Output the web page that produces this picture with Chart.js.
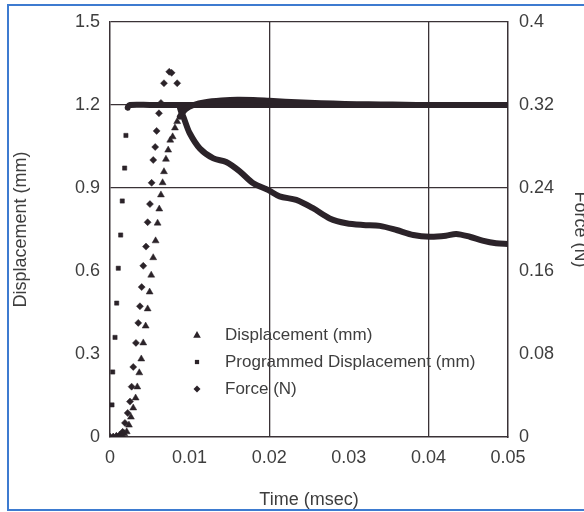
<!DOCTYPE html>
<html><head><meta charset="utf-8">
<script src="https://cdn.jsdelivr.net/npm/chart.js@4/dist/chart.umd.min.js"></script>
<style>
html,body{margin:0;padding:0;background:#fff;overflow:hidden;width:584px;height:512px;}
#wrap{position:relative;width:592px;height:512px;}
#frame{position:absolute;left:7px;top:4px;width:620px;height:503px;border:2px solid #3d7bd0;pointer-events:none;}
canvas{display:block;}
</style></head><body>
<div id="wrap"><canvas id="c" width="592" height="512"></canvas><div id="frame"></div></div>
<script>
// ---- tick labels ----
const xTicks = [0, 0.01, 0.02, 0.03, 0.04, 0.05];
const xTickLabels = ['0', '0.01', '0.02', '0.03', '0.04', '0.05'];
const dispTicks = [0, 0.3, 0.6, 0.9, 1.2, 1.5];
const dispTickLabels = ['0', '0.3', '0.6', '0.9', '1.2', '1.5'];
const forceTicks = [0, 0.08, 0.16, 0.24, 0.32, 0.4];
const forceTickLabels = ['0', '0.08', '0.16', '0.24', '0.32', '0.4'];
const xGridAt = [0.02, 0.04];
const yGridAt = [0.9, 1.2];

// ---- series: Programmed Displacement (mm) ----
const progTime = [0, 0.00025, 0.00034, 0.00063, 0.00084, 0.00104, 0.00134, 0.00154, 0.00184, 0.002, 0.00222,
  0.0025, 0.005, 0.0075, 0.01, 0.0125, 0.015, 0.0175, 0.02, 0.0225, 0.025, 0.0275, 0.03, 0.0325, 0.035, 0.0375, 0.04, 0.0425, 0.045, 0.0475, 0.05];
const progMm = [0, 0.116, 0.235, 0.36, 0.484, 0.61, 0.73, 0.853, 0.972, 1.09, 1.19,
  1.2, 1.2, 1.2, 1.2, 1.2, 1.2, 1.2, 1.2, 1.2, 1.2, 1.2, 1.2, 1.2, 1.2, 1.2, 1.2, 1.2, 1.2, 1.2, 1.2];

// ---- series: Displacement (mm) ----
const dispTime = [0, 0.0004, 0.0008, 0.0012, 0.0015, 0.0018, 0.0021, 0.00238, 0.00263, 0.00292, 0.00322,
  0.00343, 0.00368, 0.00393, 0.00418, 0.00448, 0.00473, 0.00498, 0.00518, 0.00543, 0.00573,
  0.00598, 0.00619, 0.0064, 0.00661, 0.00678, 0.00703, 0.00731, 0.00757, 0.00787, 0.00816,
  0.00844, 0.00878, 0.0095, 0.0105, 0.012, 0.014, 0.016, 0.018, 0.02, 0.022, 0.025, 0.028,
  0.031, 0.034, 0.037, 0.04, 0.043, 0.046, 0.05];
const dispMm = [0, 0, 0.002, 0.004, 0.007, 0.012, 0.019, 0.043, 0.072, 0.105, 0.141,
  0.181, 0.232, 0.282, 0.340, 0.401, 0.463, 0.524, 0.585, 0.648, 0.709,
  0.773, 0.824, 0.875, 0.919, 0.959, 1.004, 1.037, 1.073, 1.085, 1.117,
  1.14, 1.158, 1.185, 1.2, 1.21, 1.216, 1.219, 1.218, 1.215, 1.212, 1.208, 1.205,
  1.203, 1.202, 1.201, 1.2, 1.2, 1.2, 1.2];

// ---- series: Force (N) ----
const forceTime = [0, 0.0004, 0.0008, 0.0012, 0.00159, 0.00188, 0.00222, 0.00251, 0.00272, 0.00292,
  0.00326, 0.00355, 0.00376, 0.00398, 0.00418, 0.00452, 0.00473, 0.00502, 0.00523, 0.00543,
  0.00568, 0.00586, 0.00615, 0.0064, 0.00678, 0.00744, 0.00774, 0.00844,
  0.0088, 0.0093, 0.01, 0.0113, 0.013, 0.0146, 0.0163, 0.018, 0.0199, 0.0213,
  0.0234, 0.0255, 0.0276, 0.0297, 0.0318, 0.0339, 0.036, 0.0381, 0.0402, 0.0422,
  0.0435, 0.0452, 0.0468, 0.0485, 0.05];
const forceN = [0, 0, 0.001, 0.002, 0.005, 0.0136, 0.0232, 0.0341, 0.0485, 0.0675,
  0.0907, 0.110, 0.126, 0.1445, 0.165, 0.1835, 0.207, 0.2245, 0.245, 0.267,
  0.2795, 0.295, 0.312, 0.322, 0.341, 0.352, 0.351, 0.341,
  0.317, 0.307, 0.293, 0.278, 0.2685, 0.265, 0.256, 0.2445, 0.238, 0.232,
  0.2285, 0.2205, 0.2107, 0.206, 0.2043, 0.2035, 0.1995, 0.1947, 0.193, 0.194,
  0.1957, 0.193, 0.1893, 0.1867, 0.186];

// ---- styling ----
const FONT = '"Liberation Sans", Arial, sans-serif';
const textColor = '#3e3e3e';
const markColor = '#2b2329';
const lineColor = '#3a3236';
const bandWidth = 6;

function pts(t, v) { return t.map((x, i) => ({x: x, y: v[i]})); }

function series(label, t, v, axis, style, radius, denseFrom) {
  return {
    label: label,
    data: pts(t, v),
    yAxisID: axis,
    showLine: true,
    pointStyle: style,
    legendRadius: radius,
    backgroundColor: markColor,
    borderColor: markColor,
    borderWidth: bandWidth,
    borderCapStyle: 'round',
    borderJoinStyle: 'round',
    tension: 0.3,
    pointBorderWidth: 0.5,
    pointRadius: c => (c.raw && c.raw.x >= denseFrom) ? 0 : radius,
    pointHoverRadius: 0,
    segment: {
      borderColor: c => c.p0.parsed.x >= denseFrom ? markColor : 'rgba(0,0,0,0)'
    }
  };
}

function drawMarker(ctx, style, r, x, y) {
  ctx.beginPath();
  if (style === 'triangle') {
    ctx.moveTo(x, y - r);
    ctx.lineTo(x + r * 0.95, y + r * 0.7);
    ctx.lineTo(x - r * 0.95, y + r * 0.7);
  } else if (style === 'rect') {
    const s = r * Math.SQRT1_2;
    ctx.rect(x - s, y - s, 2 * s, 2 * s);
  } else {
    ctx.moveTo(x, y - r); ctx.lineTo(x + r, y); ctx.lineTo(x, y + r); ctx.lineTo(x - r, y);
  }
  ctx.closePath();
  ctx.fill();
}

const inlineLegend = {
  id: 'inlineLegend',
  afterDatasetsDraw(chart) {
    const ctx = chart.ctx;
    const a = chart.chartArea;
    const markerX = a.left + 87, textX = a.left + 115;
    const top = a.top + 313, row = 27;
    ctx.save();
    ctx.font = '17px ' + FONT;
    ctx.textBaseline = 'middle';
    ctx.textAlign = 'left';
    chart.data.datasets.forEach((ds, i) => {
      const y = top + i * row;
      ctx.fillStyle = markColor;
      drawMarker(ctx, ds.pointStyle, ds.legendRadius, markerX, y);
      ctx.fillStyle = textColor;
      ctx.fillText(ds.label, textX, y);
    });
    ctx.restore();
  }
};

function fixedTicks(values, labels) {
  return {
    afterBuildTicks: s => { s.ticks = values.map(v => ({value: v})); },
    ticks: {
      callback: (v, i) => labels[i]
    }
  };
}

const xT = fixedTicks(xTicks, xTickLabels);
const yT = fixedTicks(dispTicks, dispTickLabels);
const fT = fixedTicks(forceTicks, forceTickLabels);
const near = (v, arr) => arr.some(a => Math.abs(a - v) < 1e-9);

new Chart(document.getElementById('c'), {
  type: 'scatter',
  data: {
    datasets: [
      series('Displacement (mm)', dispTime, dispMm, 'y', 'triangle', 4, 0.0087),
      series('Programmed Displacement (mm)', progTime, progMm, 'y', 'rect', 3, 0.0022),
      series('Force (N)', forceTime, forceN, 'y2', 'rectRot', 3.5, 0.0087)
    ]
  },
  options: {
    responsive: false,
    animation: false,
    events: [],
    layout: {padding: {top: 22, left: 0, right: 0, bottom: 0}},
    plugins: {legend: {display: false}, tooltip: {enabled: false}},
    scales: {
      x: {
        type: 'linear', position: 'bottom', min: 0, max: 0.05,
        afterBuildTicks: xT.afterBuildTicks,
        afterFit: s => { s.height = 75; },
        ticks: {callback: xT.ticks.callback, color: textColor, font: {family: FONT, size: 18}, padding: 10, maxRotation: 0, autoSkip: false},
        grid: {drawTicks: false, lineWidth: 1.3,
          color: c => (c.tick && near(c.tick.value, xGridAt)) ? lineColor : 'rgba(0,0,0,0)'},
        border: {display: true, color: lineColor, width: 1.5},
        title: {display: true, text: 'Time (msec)', color: textColor, font: {family: FONT, size: 18}, padding: {top: 0, bottom: 1}}
      },
      y: {
        type: 'linear', position: 'left', min: 0, max: 1.5,
        afterBuildTicks: yT.afterBuildTicks,
        afterFit: s => { s.width = 110; },
        ticks: {callback: yT.ticks.callback, color: textColor, font: {family: FONT, size: 18}, padding: 10, autoSkip: false},
        grid: {drawTicks: false, lineWidth: 1.3,
          color: c => (c.tick && (near(c.tick.value, yGridAt) || near(c.tick.value, [1.5]))) ? lineColor : 'rgba(0,0,0,0)'},
        border: {display: true, color: lineColor, width: 1.5},
        title: {display: true, text: 'Displacement (mm)', color: textColor, font: {family: FONT, size: 18}, padding: {top: 10, bottom: 0}}
      },
      y2: {
        type: 'linear', position: 'right', min: 0, max: 0.4,
        afterBuildTicks: fT.afterBuildTicks,
        afterFit: s => { s.width = 84; },
        ticks: {callback: fT.ticks.callback, color: textColor, font: {family: FONT, size: 18}, padding: 11, autoSkip: false},
        grid: {display: false, drawTicks: false},
        border: {display: true, color: lineColor, width: 1.5},
        title: {display: true, text: 'Force (N)', color: textColor, font: {family: FONT, size: 18}, padding: {top: 1, bottom: 0}}
      }
    }
  },
  plugins: [inlineLegend]
});
</script>
</body></html>
